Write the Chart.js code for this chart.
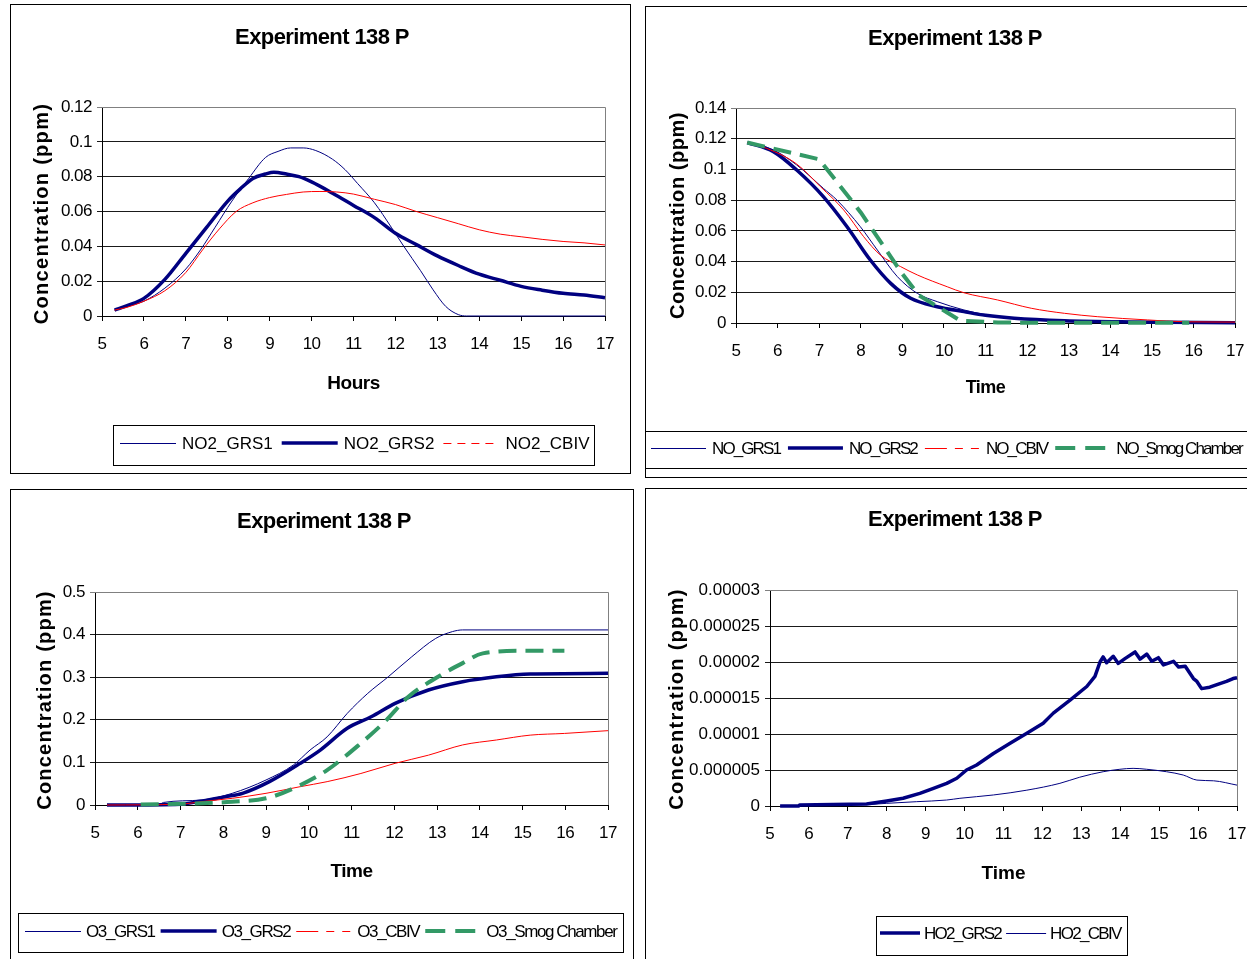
<!DOCTYPE html>
<html>
<head>
<meta charset="utf-8">
<script src="https://cdn.jsdelivr.net/npm/chart.js@4/dist/chart.umd.min.js"></script>
<style>
  html, body { margin: 0; padding: 0; background: #fff; }
  body { position: relative; width: 1247px; height: 959px; overflow: hidden; }
  canvas { position: absolute; }
  .frame { position: absolute; box-sizing: border-box; border: 1px solid #000; pointer-events: none; }
</style>
</head>
<body>
<canvas id="cNO2" width="620" height="469" style="left:10px;top:4px"></canvas>
<canvas id="cNO" width="620" height="471" style="left:645px;top:6px"></canvas>
<canvas id="cO3" width="623" height="486" style="left:10px;top:489px"></canvas>
<canvas id="cHO2" width="620" height="487" style="left:645px;top:488px"></canvas>
<div class="frame" style="left:10px;top:4px;width:621px;height:470px"></div>
<div class="frame" style="left:645px;top:6px;width:640px;height:472px"></div>
<div class="frame" style="left:10px;top:489px;width:624px;height:500px"></div>
<div class="frame" style="left:645px;top:488px;width:640px;height:500px"></div>
<script>
// ---- axis tick labels ----
const hourTicks = ['5', '6', '7', '8', '9', '10', '11', '12', '13', '14', '15', '16', '17'];
const no2Ticks = ['0', '0.02', '0.04', '0.06', '0.08', '0.1', '0.12'];
const noTicks = ['0', '0.02', '0.04', '0.06', '0.08', '0.1', '0.12', '0.14'];
const o3Ticks = ['0', '0.1', '0.2', '0.3', '0.4', '0.5'];
const ho2Ticks = ['0', '0.000005', '0.00001', '0.000015', '0.00002', '0.000025', '0.00003'];

// ---- NO2 (ppm) ----
const no2Grs1Hours = [5.3, 5.6, 6.0, 6.5, 7.0, 7.35, 7.7, 8.1, 8.5, 8.9, 9.2, 9.5, 9.8, 10.1, 10.5, 10.8, 11.1, 11.5, 11.9, 12.2, 12.6, 12.9, 13.2, 13.5, 13.7, 14, 15, 16, 17];
const no2Grs1 = [0.0034, 0.0055, 0.0085, 0.016, 0.027, 0.038, 0.051, 0.066, 0.079, 0.091, 0.0945, 0.0965, 0.0965, 0.095, 0.09, 0.084, 0.076, 0.065, 0.051, 0.04, 0.026, 0.015, 0.0055, 0.0008, 0, 0, 0, 0, 0];
const no2Grs2Hours = [5.3, 5.6, 6.0, 6.5, 7.0, 7.5, 8.0, 8.3, 8.6, 8.9, 9.1, 9.4, 9.7, 10.0, 10.5, 11.0, 11.5, 12.0, 12.5, 13.0, 13.5, 14.0, 14.5, 15.0, 15.5, 16.0, 16.5, 17.0];
const no2Grs2 = [0.0034, 0.006, 0.0101, 0.021, 0.036, 0.051, 0.066, 0.073, 0.079, 0.0815, 0.0825, 0.0815, 0.08, 0.077, 0.0705, 0.0635, 0.0565, 0.0475, 0.041, 0.0345, 0.029, 0.024, 0.0205, 0.017, 0.0148, 0.013, 0.012, 0.0105];
const no2CbivHours = [5.3, 5.6, 6.0, 6.5, 7.0, 7.4, 7.8, 8.2, 8.6, 9.0, 9.4, 9.8, 10.2, 10.6, 11.0, 11.5, 12.0, 12.5, 13.0, 13.5, 14.0, 14.5, 15.0, 15.5, 16.0, 16.5, 17.0];
const no2Cbiv = [0.0034, 0.005, 0.0085, 0.0145, 0.025, 0.038, 0.05, 0.06, 0.065, 0.068, 0.0698, 0.0712, 0.0715, 0.0712, 0.07, 0.067, 0.064, 0.06, 0.0565, 0.053, 0.0495, 0.047, 0.0455, 0.044, 0.0428, 0.042, 0.0408];

// ---- NO (ppm) ----
const noGrs1Hours = [5.27, 5.9, 6.46, 7.1, 7.43, 7.99, 8.4, 8.88, 9.36, 9.84, 10.48, 11.0, 11.69, 12.9, 14.5, 17];
const noGrs1 = [0.1175, 0.1127, 0.1029, 0.0877, 0.08, 0.0627, 0.0475, 0.0302, 0.0193, 0.0139, 0.0085, 0.0055, 0.003, 0.0015, 0.0007, 0.0002];
const noGrs2Hours = [5.27, 5.9, 6.46, 7.1, 7.67, 8.23, 8.72, 9.2, 9.84, 10.48, 11.0, 11.69, 12.9, 14.5, 17];
const noGrs2 = [0.1175, 0.1116, 0.0996, 0.0823, 0.0627, 0.041, 0.0258, 0.0161, 0.0106, 0.0074, 0.005, 0.0031, 0.0015, 0.0007, 0.0002];
const noCbivHours = [5.27, 5.74, 6.46, 7.03, 7.59, 8.07, 8.47, 8.96, 9.36, 10.08, 10.48, 11.29, 12.1, 12.9, 13.7, 14.9, 15.8, 17];
const noCbiv = [0.1175, 0.1137, 0.1035, 0.0888, 0.0736, 0.0562, 0.0443, 0.0367, 0.0313, 0.0236, 0.0197, 0.015, 0.0096, 0.0063, 0.0041, 0.002, 0.0008, 0.0006];
const noSmogHours = [5.27, 7.0, 8.0, 9.0, 9.4, 10.4, 11.3, 12.5, 15.9];
const noSmog = [0.1175, 0.1066, 0.072, 0.032, 0.018, 0.0015, 0.0003, 0.0001, 0.0001];

// ---- O3 (ppm) ----
const o3Grs1Hours = [5.28, 6.5, 6.6, 7.5, 8.21, 9.0, 9.64, 10.03, 10.43, 10.9, 11.38, 11.86, 12.41, 12.97, 13.36, 13.6, 17];
const o3Grs1 = [0, 0.001, 0.006, 0.0117, 0.0274, 0.0587, 0.0939, 0.129, 0.16, 0.215, 0.262, 0.301, 0.348, 0.391, 0.407, 0.411, 0.411];
const o3Grs2Hours = [5.28, 7.0, 7.42, 8.05, 8.45, 9.08, 9.8, 10.27, 10.9, 11.46, 12.02, 12.8, 13.6, 14.39, 15.18, 17];
const o3Grs2 = [0, 0.002, 0.008, 0.0195, 0.0274, 0.0548, 0.0978, 0.129, 0.18, 0.207, 0.2387, 0.27, 0.2895, 0.301, 0.3075, 0.309];
const o3CbivHours = [5.28, 7.0, 7.5, 8.21, 9.0, 9.8, 10.43, 11.22, 12.02, 12.8, 13.6, 14.39, 15.18, 15.98, 17];
const o3Cbiv = [0, 0.002, 0.008, 0.0157, 0.0274, 0.043, 0.0548, 0.074, 0.0978, 0.117, 0.141, 0.1526, 0.164, 0.168, 0.1745];
const o3SmogHours = [6.07, 7.5, 8.21, 9.0, 9.64, 10.43, 11.22, 11.78, 12.33, 12.89, 13.6, 14.07, 15.03, 15.98];
const o3Smog = [0.001, 0.004, 0.0078, 0.0157, 0.039, 0.082, 0.145, 0.1956, 0.254, 0.293, 0.333, 0.356, 0.362, 0.362];

// ---- HO2 (ppm) ----
const ho2Grs2Hours = [5.26, 5.74, 5.76, 7.48, 8.0, 8.42, 8.85, 9.2, 9.54, 9.8, 10.05, 10.31, 10.74, 11.17, 11.6, 12.02, 12.28, 12.71, 13.14, 13.35, 13.48, 13.56, 13.65, 13.82, 13.95, 14.13, 14.38, 14.51, 14.68, 14.81, 14.98, 15.11, 15.37, 15.5, 15.67, 15.88, 15.97, 16.09, 16.3, 16.56, 16.73, 16.9, 17];
const ho2Grs2 = [0, 0, 1.5e-7, 2.8e-7, 7.0e-7, 1.07e-6, 1.76e-6, 2.46e-6, 3.15e-6, 3.85e-6, 5.0e-6, 5.7e-6, 7.3e-6, 8.7e-6, 1.01e-5, 1.15e-5, 1.29e-5, 1.47e-5, 1.66e-5, 1.80e-5, 2.00e-5, 2.07e-5, 1.99e-5, 2.08e-5, 1.98e-5, 2.05e-5, 2.14e-5, 2.04e-5, 2.11e-5, 2.01e-5, 2.06e-5, 1.96e-5, 2.01e-5, 1.93e-5, 1.94e-5, 1.77e-5, 1.73e-5, 1.63e-5, 1.65e-5, 1.70e-5, 1.73e-5, 1.77e-5, 1.78e-5];
const ho2CbivHours = [5.26, 7.5, 8.0, 8.77, 9.54, 9.88, 10.74, 11.6, 12.45, 12.96, 13.56, 13.99, 14.33, 14.68, 15.19, 15.62, 15.97, 16.4, 17];
const ho2Cbiv = [0, 2.0e-7, 3.7e-7, 6.0e-7, 8.3e-7, 1.07e-6, 1.53e-6, 2.2e-6, 3.15e-6, 4.0e-6, 4.76e-6, 5.1e-6, 5.23e-6, 5.1e-6, 4.76e-6, 4.3e-6, 3.6e-6, 3.5e-6, 2.9e-6];

// ---- drawing ----
const FONT = "'Liberation Sans', Arial, Helvetica, sans-serif";
const NAVY = '#000080', RED = '#ff0000', GREEN = '#339966';
Chart.defaults.font.family = FONT;
Chart.defaults.color = '#000';

const thinNavy = { borderColor: NAVY, borderWidth: 1 };
const thickNavy = { borderColor: NAVY, borderWidth: 3.5 };
const thinRed = { borderColor: RED, borderWidth: 1 };
const greenDash = { borderColor: GREEN, borderWidth: 4, borderDash: [18, 9], legendDash: [20, 10, 20, 100] };

function series(label, hours, values, style, extra) {
  return Object.assign({
    label,
    data: hours.map((h, i) => ({ x: h, y: values[i] })),
    pointRadius: 0,
    pointHoverRadius: 0,
    fill: false,
    clip: false,
    cubicInterpolationMode: 'monotone',
    borderCapStyle: 'butt',
    borderJoinStyle: 'round'
  }, style, extra || {});
}

// Legend in a framed box: line sample, then label, item after item.
function drawLegend(chart, lg) {
  const ctx = chart.ctx;
  const [bx, by, bw, bh] = lg.box;
  ctx.save();
  ctx.setLineDash([]);
  ctx.strokeStyle = '#000';
  ctx.lineWidth = 1;
  ctx.strokeRect(bx + 0.5, by + 0.5, bw - 1, bh - 1);
  const cy = Math.round(by + bh / 2) + lg.dy;
  ctx.font = lg.fontSize + 'px ' + FONT;
  ctx.letterSpacing = lg.spacing + 'px';
  ctx.textAlign = 'left';
  ctx.textBaseline = 'middle';
  let x = lg.startX;
  chart.data.datasets.forEach(ds => {
    ctx.save();
    ctx.strokeStyle = ds.borderColor;
    ctx.lineWidth = ds.borderWidth;
    ctx.setLineDash(ds.legendDash || []);
    const ly = ds.borderWidth % 2 === 1 ? cy + 0.5 : cy;
    ctx.beginPath();
    ctx.moveTo(x, ly);
    ctx.lineTo(x + lg.sample, ly);
    ctx.stroke();
    ctx.restore();
    x += lg.sample + lg.gap;
    ctx.fillStyle = '#000';
    ctx.fillText(ds.label, x, cy + 1);
    x += ctx.measureText(ds.label).width + lg.itemGap;
  });
  ctx.restore();
}

const panelDecor = {
  id: 'panelDecor',
  beforeDraw(chart, args, o) {
    chart.ctx.letterSpacing = o.tickSpacing + 'px';
  },
  beforeDatasetsDraw(chart) {
    const { ctx, chartArea: a } = chart;
    const t = Math.round(a.top) + 0.5, r = Math.round(a.right) + 0.5;
    ctx.save();
    ctx.setLineDash([]);
    ctx.strokeStyle = '#808080';
    ctx.lineWidth = 1;
    ctx.beginPath();
    ctx.moveTo(a.left, t);
    ctx.lineTo(r, t);
    ctx.lineTo(r, a.bottom);
    ctx.stroke();
    ctx.restore();
  },
  afterDraw(chart, args, o) {
    const { ctx, chartArea: a } = chart;
    ctx.save();
    ctx.fillStyle = '#000';
    ctx.textAlign = 'center';
    ctx.textBaseline = 'middle';
    ctx.font = 'bold 22px ' + FONT;
    ctx.letterSpacing = '-0.6px';
    ctx.fillText(o.title, o.titleX, o.titleY);
    ctx.translate(o.yTitleX, (a.top + a.bottom) / 2 + o.yTitleDy);
    ctx.rotate(-Math.PI / 2);
    ctx.font = 'bold 20px ' + FONT;
    ctx.letterSpacing = o.yTitleSpacing + 'px';
    ctx.fillText(o.yTitle, 0, 0);
    ctx.restore();
    drawLegend(chart, o.legend);
  }
};

function makeChart(id, p) {
  const n = p.datasets.length;
  p.datasets.forEach((d, i) => { d.order = n - i; });
  const yLast = p.yTicks.length - 1;
  return new Chart(document.getElementById(id), {
    type: 'line',
    data: { datasets: p.datasets },
    options: {
      responsive: false,
      animation: false,
      events: [],
      layout: { padding: { left: 0, top: p.top, right: p.right, bottom: p.bottom } },
      plugins: {
        legend: { display: false },
        tooltip: { enabled: false },
        title: { display: false },
        panelDecor: {
          title: 'Experiment 138 P',
          titleX: p.titleX,
          titleY: p.titleY,
          yTitle: 'Concentration (ppm)',
          yTitleX: p.yTitleX,
          yTitleDy: p.yTitleDy,
          yTitleSpacing: p.yTitleSpacing,
          tickSpacing: p.tickSpacing,
          legend: p.legend
        }
      },
      scales: {
        x: {
          type: 'linear',
          min: 5,
          max: 17,
          afterBuildTicks: s => { s.ticks = hourTicks.map(l => ({ value: parseFloat(l) })); },
          afterFit: s => { s.height = p.xHeight; },
          grid: { drawOnChartArea: false, drawTicks: true, tickLength: 5, color: '#000', lineWidth: 1 },
          border: { display: true, color: '#000', width: 1 },
          ticks: {
            autoSkip: false, maxRotation: 0, padding: 13, color: '#000',
            font: { size: 17 },
            callback: (v, i) => hourTicks[i]
          },
          title: {
            display: true, text: p.xTitle, color: '#000',
            font: { size: p.xTitleSize, weight: 'bold', lineHeight: 1.2 },
            padding: 0
          }
        },
        y: {
          type: 'linear',
          min: 0,
          max: parseFloat(p.yTicks[yLast]),
          afterBuildTicks: s => { s.ticks = p.yTicks.map(l => ({ value: parseFloat(l) })); },
          afterFit: s => { s.width = p.yWidth; },
          grid: {
            drawTicks: true, tickLength: 5, lineWidth: 1,
            color: c => (c.index === yLast ? '#808080' : '#1a1a1a')
          },
          border: { display: true, color: '#000', width: 1 },
          ticks: {
            padding: 5, color: '#000',
            font: { size: 17 },
            callback: (v, i) => p.yTicks[i]
          },
          title: { display: false }
        }
      }
    },
    plugins: [panelDecor]
  });
}

makeChart('cNO2', {
  top: 103, right: 25, bottom: 78, yWidth: 92, xHeight: 79, tickSpacing: -0.5,
  titleX: 312, titleY: 34, yTitleX: 32, yTitleDy: 2, yTitleSpacing: 1.3,
  xTitle: 'Hours', xTitleSize: 19, yTicks: no2Ticks,
  legend: { box: [103, 421, 482, 41], startX: 110, sample: 56, gap: 6, itemGap: 9, fontSize: 17, spacing: 0, dy: -3 },
  datasets: [
    series('NO2_GRS1', no2Grs1Hours, no2Grs1, thinNavy),
    series('NO2_GRS2', no2Grs2Hours, no2Grs2, thickNavy),
    series('NO2_CBIV', no2CbivHours, no2Cbiv, thinRed, { legendDash: [8, 6] })
  ]
});

makeChart('cNO', {
  top: 102, right: 30, bottom: 78, yWidth: 91, xHeight: 76, tickSpacing: -0.5,
  titleX: 310, titleY: 33, yTitleX: 33, yTitleDy: 0, yTitleSpacing: 0.55,
  xTitle: 'Time', xTitleSize: 18, yTicks: noTicks,
  legend: { box: [0, 425, 620, 38], startX: 6, sample: 55, gap: 6, itemGap: 8, fontSize: 17, spacing: -1.9, dy: -2 },
  datasets: [
    series('NO_GRS1', noGrs1Hours, noGrs1, thinNavy),
    series('NO_GRS2', noGrs2Hours, noGrs2, thickNavy),
    series('NO_CBIV', noCbivHours, noCbiv, thinRed, { legendDash: [22, 8, 8, 8, 8, 8] }),
    series('NO_Smog Chamber', noSmogHours, noSmog, greenDash, { cubicInterpolationMode: 'default', tension: 0 })
  ]
});

makeChart('cO3', {
  top: 103, right: 25, bottom: 92, yWidth: 85, xHeight: 78, tickSpacing: -0.5,
  titleX: 314, titleY: 33, yTitleX: 35, yTitleDy: 1.5, yTitleSpacing: 1.2,
  xTitle: 'Time', xTitleSize: 19, yTicks: o3Ticks,
  legend: { box: [8, 424, 606, 40], startX: 15, sample: 56, gap: 5, itemGap: 6, fontSize: 17, spacing: -1.4, dy: -2 },
  datasets: [
    series('O3_GRS1', o3Grs1Hours, o3Grs1, thinNavy),
    series('O3_GRS2', o3Grs2Hours, o3Grs2, thickNavy),
    series('O3_CBIV', o3CbivHours, o3Cbiv, thinRed, { legendDash: [22, 8, 8, 8, 8, 8] }),
    series('O3_Smog Chamber', o3SmogHours, o3Smog, greenDash)
  ]
});

makeChart('cHO2', {
  top: 102, right: 28, bottom: 90, yWidth: 125, xHeight: 79, tickSpacing: 0,
  titleX: 310, titleY: 32, yTitleX: 32, yTitleDy: 1, yTitleSpacing: 1.3,
  xTitle: 'Time', xTitleSize: 19, yTicks: ho2Ticks,
  legend: { box: [231, 428, 252, 40], startX: 235, sample: 40, gap: 4, itemGap: 5, fontSize: 17, spacing: -1.7, dy: -3 },
  datasets: [
    series('HO2_GRS2', ho2Grs2Hours, ho2Grs2, thickNavy, { cubicInterpolationMode: 'default', tension: 0 }),
    series('HO2_CBIV', ho2CbivHours, ho2Cbiv, thinNavy)
  ]
});
</script>
</body>
</html>
